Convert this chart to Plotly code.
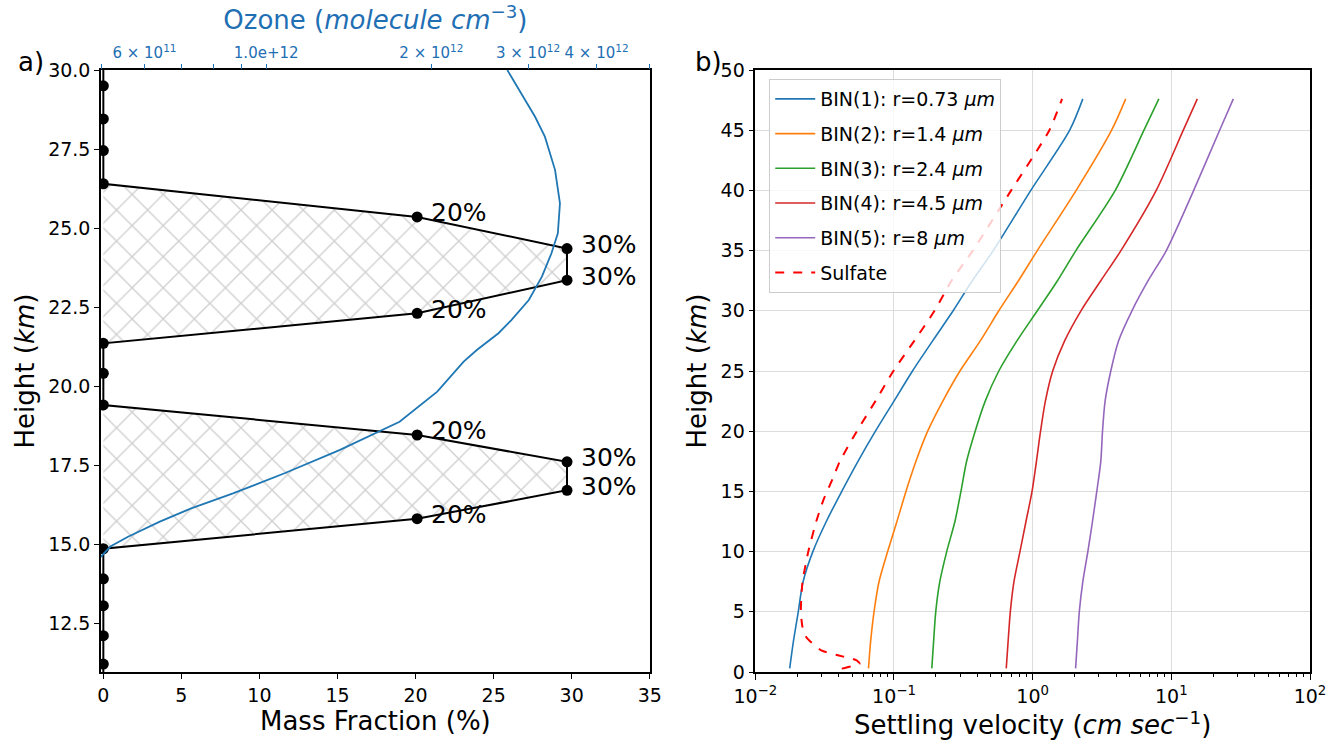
import plotly.graph_objects as go

# ---------------- Panel a data ----------------
heights_a = [30.5, 29.5, 28.45, 27.45, 26.4, 25.35, 24.35, 23.35, 22.3, 21.35, 20.4,
             19.4, 18.45, 17.6, 16.7, 15.8, 14.85, 13.9, 13.05, 12.1, 11.2, 10.5]
mass_frac = [0, 0, 0, 0, 0, 20.1, 29.7, 29.7, 20.1, 0, 0,
             0, 20.1, 29.7, 29.7, 20.1, 0, 0, 0, 0, 0, 0]
pct_labels = ["", "", "", "", "", "20%", "30%", "30%", "20%", "", "",
              "", "20%", "30%", "30%", "20%", "", "", "", "", "", ""]

ozone_height = [30.0, 29.26, 28.52, 27.89, 26.84, 25.78, 24.83, 24.2, 23.46, 22.72, 22.09,
                21.67, 21.14, 20.77, 19.82, 18.87, 18.61, 17.97, 17.24, 16.6, 16.13,
                15.71, 15.23, 14.92, 14.6, 14.4]
ozone_conc = [2.75e12, 2.92e12, 3.09e12, 3.22e12, 3.36e12, 3.43e12, 3.40e12, 3.31e12, 3.18e12,
              3.01e12, 2.80e12, 2.65e12, 2.42e12, 2.29e12, 2.05e12, 1.75e12, 1.63e12, 1.36e12,
              1.08e12, 8.7e11, 7.3e11, 6.4e11, 5.6e11, 5.2e11, 5.0e11, 4.85e11]

ozone_tickvals = [5e11, 6e11, 7e11, 8e11, 9e11, 1e12, 2e12, 3e12, 4e12, 5e12]
ozone_ticktext = ["", "6 \u00d7 10<sup>11</sup>", "", "", "", "1.0e+12",
                  "2 \u00d7 10<sup>12</sup>", "3 \u00d7 10<sup>12</sup>", "4 \u00d7 10<sup>12</sup>", ""]

# ---------------- Panel b data ----------------
h_bins = [0.3, 2.5, 5, 7.5, 10, 12.5, 15, 17.5, 20, 22.5, 25, 27.5, 30, 32.5, 35, 40, 45, 47.6]
bin1 = [0.0177, 0.0188, 0.0204, 0.0221, 0.026, 0.0325, 0.042, 0.055, 0.0735, 0.100, 0.136,
        0.19, 0.267, 0.367, 0.52, 0.97, 1.85, 2.30]
bin2 = [0.0655, 0.0678, 0.0718, 0.078, 0.090, 0.105, 0.122, 0.144, 0.175, 0.225, 0.299,
        0.419, 0.570, 0.79, 1.08, 2.06, 3.71, 4.69]
bin3 = [0.1874, 0.193, 0.200, 0.214, 0.240, 0.275, 0.304, 0.334, 0.385, 0.455, 0.570,
        0.77, 1.08, 1.51, 2.05, 3.94, 6.35, 8.13]
bin4 = [0.645, 0.665, 0.690, 0.733, 0.81, 0.895, 0.99, 1.065, 1.14, 1.235, 1.395,
        1.70, 2.23, 3.1, 4.33, 7.78, 12.2, 15.4]
bin5 = [2.04, 2.10, 2.17, 2.30, 2.50, 2.70, 2.90, 3.10, 3.19, 3.33, 3.66,
        4.16, 5.2, 6.8, 9.2, 14.5, 22.3, 28.0]
h_sulf = [0.28, 0.47, 0.69, 0.97, 1.39, 1.8, 2.9, 3.74, 5, 7.5, 10, 12.5, 14.3, 16, 17.5,
          20, 22.5, 25, 27.5, 30, 32.5, 35, 40, 45, 47.6]
sulfate = [0.042, 0.049, 0.0565, 0.0537, 0.0394, 0.0299, 0.0233, 0.0219, 0.0213, 0.0219,
           0.0241, 0.0275, 0.031, 0.036, 0.0407, 0.054, 0.0735, 0.099, 0.140, 0.196,
           0.26, 0.37, 0.70, 1.32, 1.63]

bin_names = ["BIN(1): r=0.73 <i>\u03bcm</i>", "BIN(2): r=1.4 <i>\u03bcm</i>",
             "BIN(3): r=2.4 <i>\u03bcm</i>", "BIN(4): r=4.5 <i>\u03bcm</i>",
             "BIN(5): r=8 <i>\u03bcm</i>"]
bin_colors = ["#1f77b4", "#ff7f0e", "#2ca02c", "#d62728", "#9467bd"]

FONT = "DejaVu Sans"
BLUE = "#1f6fb4"

fig = go.Figure()

# hatched layers
for lo, hi in [(4, 10), (11, 17)]:
    fig.add_trace(go.Scatter(
        x=mass_frac[lo:hi], y=heights_a[lo:hi], mode="lines", fill="toself",
        line=dict(width=0), fillcolor="white",
        fillpattern=dict(shape="x", fgcolor="#a0a0a0", bgcolor="white", size=22, solidity=0.12),
        showlegend=False, hoverinfo="skip", xaxis="x", yaxis="y"))

# ozone profile on top log axis
fig.add_trace(go.Scatter(x=ozone_conc, y=ozone_height, mode="lines",
                         line=dict(color="#1f77b4", width=1.8), showlegend=False,
                         xaxis="x3", yaxis="y"))

# mass fraction profile
fig.add_trace(go.Scatter(x=mass_frac, y=heights_a, mode="lines+markers",
                         line=dict(color="black", width=2),
                         marker=dict(color="black", size=11),
                         showlegend=False, xaxis="x", yaxis="y"))

for xv, yv, t in zip(mass_frac, heights_a, pct_labels):
    if t:
        fig.add_annotation(x=xv, y=yv, xref="x", yref="y", text=t, showarrow=False,
                           xanchor="left", yanchor="middle", xshift=12, yshift=4,
                           font=dict(family=FONT, size=25, color="black"))

# panel b curves
for name, col, vals in zip(bin_names, bin_colors, [bin1, bin2, bin3, bin4, bin5]):
    fig.add_trace(go.Scatter(x=vals, y=h_bins, mode="lines", name=name,
                             line=dict(color=col, width=1.6, shape="spline", smoothing=0.8),
                             legendgroup=name, xaxis="x2", yaxis="y2"))
fig.add_trace(go.Scatter(x=sulfate, y=h_sulf, mode="lines", name="Sulfate",
                         line=dict(color="red", width=2, dash="dash", shape="spline", smoothing=0.6),
                         legendgroup="sulf", xaxis="x2", yaxis="y2"))

tickfont = dict(family=FONT, size=19, color="black")
titlefont = dict(family=FONT, size=26, color="black")

fig.update_layout(
    width=1338, height=744,
    margin=dict(l=101, r=23, t=70, b=72),
    paper_bgcolor="white", plot_bgcolor="white",
    font=dict(family=FONT, color="black"),
    xaxis=dict(domain=[0, 0.4539], range=[-0.15, 35], tickvals=[0, 5, 10, 15, 20, 25, 30, 35],
               ticks="outside", ticklen=5, tickcolor="black", showgrid=False, zeroline=False,
               showline=True, linecolor="black", linewidth=1.5, mirror=True,
               tickfont=tickfont, anchor="y",
               title=dict(text="Mass Fraction (%)", font=titlefont, standoff=4)),
    yaxis=dict(domain=[0, 1], range=[10.95, 30.0],
               tickvals=[12.5, 15, 17.5, 20, 22.5, 25, 27.5, 30], tickformat=".1f",
               ticks="outside", ticklen=5, tickcolor="black", showgrid=False, zeroline=False,
               showline=True, linecolor="black", linewidth=1.5, mirror=True,
               tickfont=tickfont, anchor="x",
               title=dict(text="Height (<i>km</i>)", font=titlefont, standoff=6)),
    xaxis3=dict(overlaying="x", side="top", type="log", anchor="y",
                range=[11.69897, 12.69897], tickvals=ozone_tickvals, ticktext=ozone_ticktext,
                ticks="outside", ticklen=5, tickcolor=BLUE, showgrid=False, zeroline=False,
                showline=False, tickfont=dict(family=FONT, size=15, color=BLUE),
                title=dict(text="Ozone (<i>molecule cm</i><sup>\u22123</sup>)",
                           font=dict(family=FONT, size=26, color=BLUE), standoff=4)),
    xaxis2=dict(domain=[0.5412, 1], type="log", range=[-2, 2], anchor="y2",
                tickvals=[0.01, 0.1, 1, 10, 100],
                ticktext=["10<sup>\u22122</sup>", "10<sup>\u22121</sup>", "10<sup>0</sup>",
                          "10<sup>1</sup>", "10<sup>2</sup>"],
                ticks="outside", ticklen=6, tickcolor="black",
                minor=dict(ticks="outside", ticklen=3, tickcolor="black", dtick="D1", showgrid=False),
                showgrid=True, gridcolor="#dcdcdc", gridwidth=1, zeroline=False,
                showline=True, linecolor="black", linewidth=1.5, mirror=True,
                tickfont=tickfont,
                title=dict(text="Settling velocity (<i>cm sec</i><sup>\u22121</sup>)",
                           font=titlefont, standoff=4)),
    yaxis2=dict(domain=[0, 1], range=[0, 50], tickvals=list(range(0, 51, 5)), anchor="x2",
                ticks="outside", ticklen=5, tickcolor="black",
                showgrid=True, gridcolor="#dcdcdc", gridwidth=1, zeroline=False,
                showline=True, linecolor="black", linewidth=1.5, mirror=True,
                tickfont=tickfont,
                title=dict(text="Height (<i>km</i>)", font=titlefont, standoff=6)),
    legend=dict(x=0.5527, y=0.985, xanchor="left", yanchor="top",
                bgcolor="rgba(255,255,255,0.8)", bordercolor="#cccccc", borderwidth=1,
                font=dict(family=FONT, size=19, color="black"), tracegroupgap=7,
                traceorder="grouped", itemwidth=40),
    annotations=list(fig.layout.annotations) + [
        dict(text="a)", x=-0.058, y=1.0133, xref="paper", yref="paper", showarrow=False,
             xanchor="center", yanchor="middle", font=dict(family=FONT, size=26)),
        dict(text="b)", x=0.5025, y=1.0133, xref="paper", yref="paper", showarrow=False,
             xanchor="center", yanchor="middle", font=dict(family=FONT, size=26)),
    ],
)

fig.write_html("out.html")
